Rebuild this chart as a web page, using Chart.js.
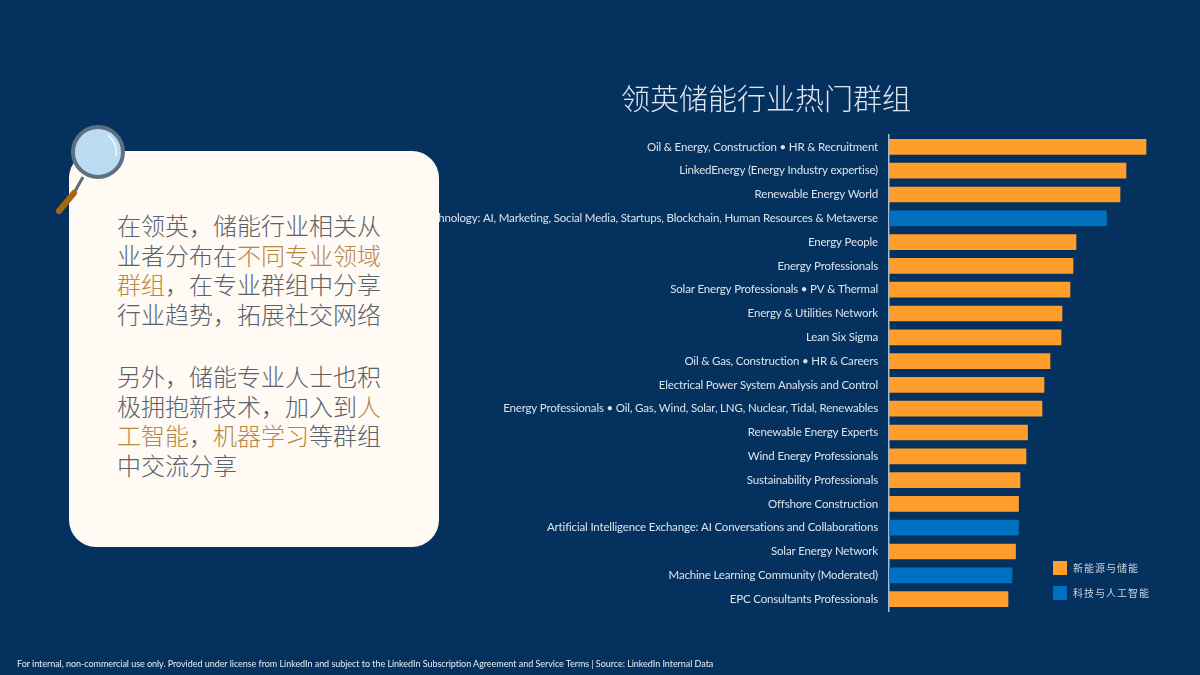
<!DOCTYPE html>
<html lang="zh">
<head>
<meta charset="utf-8">
<title>领英储能行业热门群组</title>
<script src="https://cdn.jsdelivr.net/npm/chart.js@4"></script>
<style>
    html, body { margin: 0; padding: 0; }
    body { width: 1200px; height: 675px; background: #05315f; position: relative; overflow: hidden; font-family: "Noto Sans CJK SC", sans-serif; }
    #chartBox { position: absolute; left: 0; top: 0; width: 1200px; height: 675px; }
    .title { position: absolute; left: 566px; width: 400px; top: 76px; text-align: center; color: #dde5ed; font-size: 29px; line-height: 42px; font-weight: 300; }
    .card { position: absolute; left: 69px; top: 151px; width: 370px; height: 396px; background: #fffaf3; border-radius: 27px; }
    .card p { position: absolute; left: 48px; margin: 0; width: 280px; font-size: 24px; line-height: 29.6px; color: #59626c; font-weight: 300; }
    .card b { font-weight: 300; color: #b68747; }
    .lens { position: absolute; left: 50px; top: 118px; }
    .legend { position: absolute; left: 1053px; top: 561px; }
    .legend div { height: 24.5px; font-size: 10px; line-height: 14px; letter-spacing: 1px; color: #c9d4de; white-space: nowrap; }
    .legend i { display: inline-block; width: 14px; height: 14px; margin-right: 6px; vertical-align: top; }
    .foot { position: absolute; left: 17px; top: 658px; color: #e8edf2; font: 9px/12px Lato, sans-serif; letter-spacing: -0.04px; white-space: nowrap; }
</style>
</head>
<body>
<div id="chartBox"><canvas id="groupChart"></canvas></div>
<div class="title">领英储能行业热门群组</div>
<div class="card">
    <p style="top: 59px">在领英，储能行业相关从<br>业者分布在<b>不同专业领域<br>群组</b>，在专业群组中分享<br>行业趋势，拓展社交网络</p>
    <p style="top: 210px">另外，储能专业人士也积<br>极拥抱新技术，加入到<b>人<br>工智能</b>，<b>机器学习</b>等群组<br>中交流分享</p>
</div>
<svg class="lens" width="85" height="100" viewBox="0 0 85 100">
    <path d="M33 59 L24 75" stroke="#5f6d7c" stroke-width="3" fill="none"/>
    <path d="M24 75 L9 93" stroke="#a8660f" stroke-width="6" stroke-linecap="round" fill="none"/>
    <circle cx="48" cy="34" r="25" fill="#bcdcf3" stroke="#5f6f82" stroke-width="4"/>
    <path d="M58 17 Q68 26 66 38" stroke="#ffffff" stroke-width="1.2" fill="none"/>
</svg>
<div class="legend" id="legendBox"></div>
<div class="foot">For internal, non-commercial use only. Provided under license from LinkedIn and subject to the LinkedIn Subscription Agreement and Service Terms | Source: LinkedIn Internal Data</div>

<script>
// Bar lengths are read off the picture, there is no value axis in the reference
const groupNames = [
    "Oil & Energy, Construction • HR & Recruitment",
    "LinkedEnergy (Energy Industry expertise)",
    "Renewable Energy World",
    "Technology: AI, Marketing, Social Media, Startups, Blockchain, Human Resources & Metaverse",
    "Energy People",
    "Energy Professionals",
    "Solar Energy Professionals • PV & Thermal",
    "Energy & Utilities Network",
    "Lean Six Sigma",
    "Oil & Gas, Construction • HR & Careers",
    "Electrical Power System Analysis and Control",
    "Energy Professionals • Oil, Gas, Wind, Solar, LNG, Nuclear, Tidal, Renewables",
    "Renewable Energy Experts",
    "Wind Energy Professionals",
    "Sustainability Professionals",
    "Offshore Construction",
    "Artificial Intelligence Exchange: AI Conversations and Collaborations",
    "Solar Energy Network",
    "Machine Learning Community (Moderated)",
    "EPC Consultants Professionals"
];
const energyValues = [257, 237, 231, null, 187, 184, 181, 173, 172, 161, 155, 153, 138.5, 137, 131, 129.5, null, 126.5, null, 119];
const techValues = [null, null, null, 217.5, null, null, null, null, null, null, null, null, null, null, null, null, 129.5, null, 123, null];
const seriesNames = ["新能源与储能", "科技与人工智能"];
const seriesColors = ["#ff9e2b", "#0070c0"];

const labelSpacing = {
    id: "labelSpacing",
    beforeDraw(chart) { chart.ctx.letterSpacing = "-0.17px"; }
};

new Chart(document.getElementById("groupChart"), {
    type: "bar",
    data: {
        labels: groupNames,
        datasets: [
            { label: seriesNames[0], data: energyValues, backgroundColor: seriesColors[0], barThickness: 15 },
            { label: seriesNames[1], data: techValues, backgroundColor: seriesColors[1], barThickness: 15 }
        ]
    },
    options: {
        indexAxis: "y",
        responsive: true,
        maintainAspectRatio: false,
        animation: false,
        layout: { padding: { top: 135, bottom: 64, left: 0, right: 11 } },
        plugins: {
            legend: { display: false },
            tooltip: { enabled: false }
        },
        scales: {
            x: { display: false, stacked: true, min: 0, max: 300 },
            y: {
                stacked: true,
                afterFit(scale) { scale.width = 889; },
                grid: { display: false, drawTicks: false },
                border: { display: true, color: "#a9bccd", width: 1.5 },
                ticks: {
                    autoSkip: false,
                    padding: 11,
                    color: "#dbe3ea",
                    font: { family: "Lato", size: 11.5 }
                }
            }
        }
    },
    plugins: [labelSpacing]
});

document.getElementById("legendBox").innerHTML = seriesNames
    .map((name, i) => `<div><i style="background:${seriesColors[i]}"></i>${name}</div>`)
    .join("");
</script>
</body>
</html>
